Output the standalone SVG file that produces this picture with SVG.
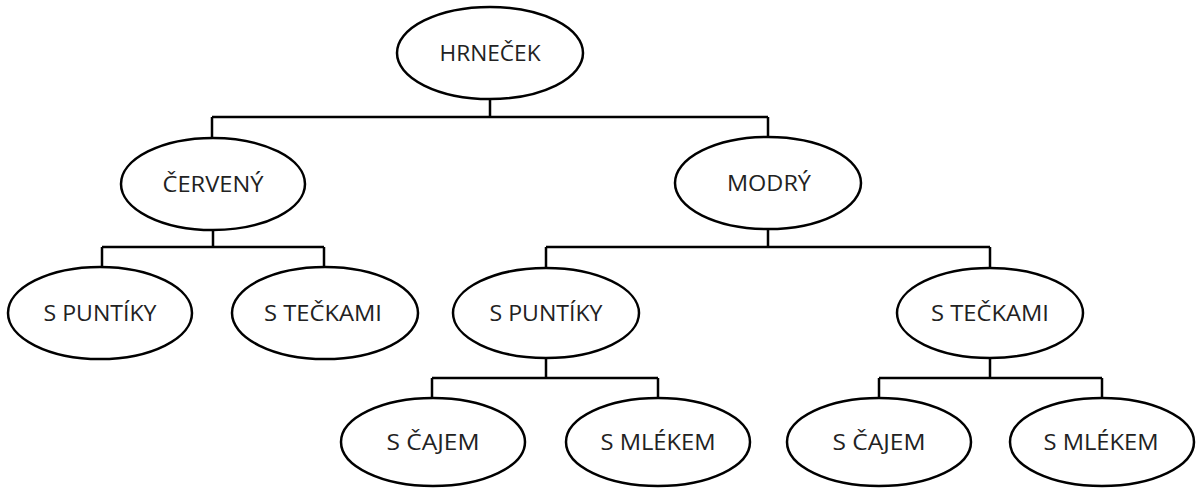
<svg xmlns="http://www.w3.org/2000/svg" width="1196" height="488" viewBox="0 0 1196 488">
<style>
.n ellipse{fill:#fff;stroke:#000;stroke-width:2.5}
.n text{font-family:"Open Sans","Noto Sans","Liberation Sans",sans-serif;font-size:21px;fill:#222;text-anchor:middle}
.c{fill:none;stroke:#000;stroke-width:2.5}
</style>
<rect width="1196" height="488" fill="#fff"/>
<g id="connectors" class="c">
<path d="M490,99V117M212,117H768M212,117V138M768,117V137"/>
<path d="M213,230V247M102,247H324M102,247V268M324,247V268"/>
<path d="M768,229V247M546,247H990M546,247V268M990,247V268"/>
<path d="M546,358V378M432,378H658M432,378V398M658,378V398"/>
<path d="M990,358V378M879,378H1102M879,378V398M1102,378V398"/>
</g>
<g id="n-hrnecek" class="n"><ellipse cx="490" cy="53" rx="93" ry="46"/><text x="490" y="61" textLength="101" lengthAdjust="spacingAndGlyphs">HRNEČEK</text></g>
<g id="n-cerveny" class="n"><ellipse cx="213" cy="184" rx="92" ry="46"/><text x="213" y="192" textLength="101" lengthAdjust="spacingAndGlyphs">ČERVENÝ</text></g>
<g id="n-modry" class="n"><ellipse cx="768" cy="183" rx="93" ry="46"/><text x="769" y="191" textLength="84" lengthAdjust="spacingAndGlyphs">MODRÝ</text></g>
<g id="n-c-puntiky" class="n"><ellipse cx="100" cy="313" rx="92" ry="46"/><text x="100" y="321" textLength="113" lengthAdjust="spacingAndGlyphs">S PUNTÍKY</text></g>
<g id="n-c-teckami" class="n"><ellipse cx="325" cy="313" rx="93" ry="46"/><text x="323" y="321" textLength="118" lengthAdjust="spacingAndGlyphs">S TEČKAMI</text></g>
<g id="n-m-puntiky" class="n"><ellipse cx="546" cy="313" rx="93" ry="45"/><text x="546" y="321" textLength="113" lengthAdjust="spacingAndGlyphs">S PUNTÍKY</text></g>
<g id="n-m-teckami" class="n"><ellipse cx="990" cy="313" rx="93" ry="45"/><text x="990" y="321" textLength="118" lengthAdjust="spacingAndGlyphs">S TEČKAMI</text></g>
<g id="n-p-cajem" class="n"><ellipse cx="433" cy="442" rx="92" ry="44"/><text x="433" y="450" textLength="93" lengthAdjust="spacingAndGlyphs">S ČAJEM</text></g>
<g id="n-p-mlekem" class="n"><ellipse cx="658" cy="442" rx="92" ry="44"/><text x="658" y="450" textLength="115" lengthAdjust="spacingAndGlyphs">S MLÉKEM</text></g>
<g id="n-t-cajem" class="n"><ellipse cx="879" cy="442" rx="92" ry="44"/><text x="879" y="450" textLength="93" lengthAdjust="spacingAndGlyphs">S ČAJEM</text></g>
<g id="n-t-mlekem" class="n"><ellipse cx="1102" cy="442" rx="92" ry="44"/><text x="1101" y="450" textLength="115" lengthAdjust="spacingAndGlyphs">S MLÉKEM</text></g>
</svg>
